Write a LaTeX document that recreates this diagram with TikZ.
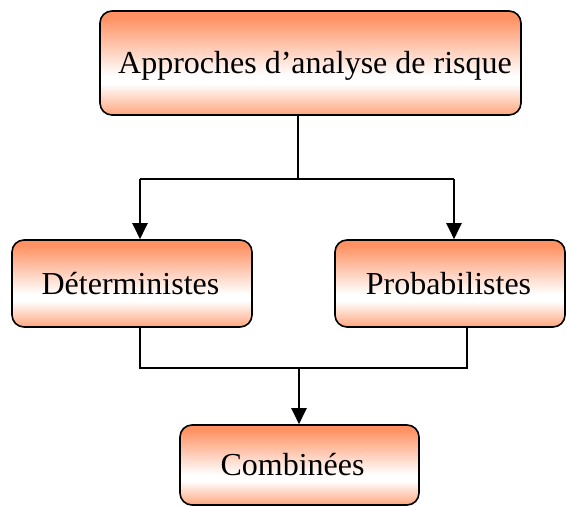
\documentclass[tikz,border=0pt]{standalone}
\usepackage{fontspec}
\setmainfont{Liberation Serif}
\usetikzlibrary{arrows.meta}

% orange -> white -> orange band used inside every box
\definecolor{shtop}{RGB}{255,145,98}
\definecolor{shbot}{RGB}{255,165,125}
\pgfdeclareverticalshading{boxshade}{100bp}{%
  color(0bp)=(shbot); color(25bp)=(shbot); color(40bp)=(white);
  color(44bp)=(white); color(72bp)=(shtop); color(100bp)=(shtop)}

\begin{document}
\begin{tikzpicture}[x=1pt,y=-1pt,
  box/.style={draw=black, line width=1.6pt, rounded corners=12pt,
    shading=boxshade, inner sep=0pt, font=\fontsize{32}{38}\selectfont,
    text height=21pt, text depth=0pt},
  link/.style={line width=1.6pt, line join=miter},
  arr/.style={line width=2.2pt, -{Triangle[width=15pt,length=16pt]}}]
  \useasboundingbox (0,0) rectangle (567,506);

  % boxes
  \node[box, minimum width=421pt, minimum height=104pt] (top) at (310.5,63)
    {\hspace*{9pt}Approches d’analyse de risque};
  \node[box, minimum width=240pt, minimum height=87pt] (det) at (132,283.5)
    {Déterministes\hspace*{3pt}};
  \node[box, minimum width=230pt, minimum height=87pt] (prob) at (450,283.5)
    {Probabilistes\hspace*{3pt}};
  \node[box, minimum width=239pt, minimum height=80pt] (comb) at (299.5,465)
    {Combinées\hspace*{14pt}};

  % junction points of the connectors
  \coordinate (j1) at (298,179);
  \coordinate (la) at (140,179);
  \coordinate (ra) at (454,179);
  \coordinate (lb) at (140,368);
  \coordinate (rb) at (467,368);
  \coordinate (mb) at (299,368);

  % upper split
  \draw[link] (top.south -| j1) -- (j1);
  \draw[link] (la) -- (ra);
  \draw[arr] (la) -- (la |- det.north);
  \draw[arr] (ra) -- (ra |- prob.north);

  % lower merge
  \draw[link] (det.south -| lb) -- (lb) -- (rb) -- (prob.south -| rb);
  \draw[arr] (mb) -- (comb.north -| mb);
\end{tikzpicture}
\end{document}
